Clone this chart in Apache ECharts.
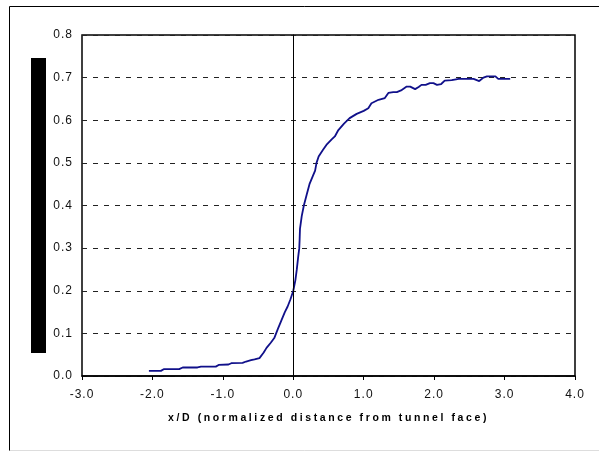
<!DOCTYPE html>
<html>
<head>
<meta charset="utf-8">
<script src="https://cdn.jsdelivr.net/npm/echarts@6/dist/echarts.min.js"></script>
<style>html,body{margin:0;padding:0;background:#fff}#c{width:599px;height:451px}</style>
</head>
<body>
<div id="c"></div>
<script>
var xValues = [-2.05,-1.88,-1.84,-1.62,-1.57,-1.36,-1.31,-1.10,-1.06,-0.92,-0.88,-0.72,-0.67,-0.60,-0.55,-0.48,-0.42,-0.38,-0.32,-0.27,-0.22,-0.17,-0.12,-0.08,-0.04,0.00,0.03,0.05,0.07,0.085,0.09,0.095,0.12,0.15,0.19,0.23,0.28,0.31,0.33,0.36,0.42,0.47,0.545,0.59,0.64,0.72,0.80,0.90,1.00,1.065,1.11,1.21,1.30,1.35,1.42,1.47,1.53,1.61,1.66,1.73,1.78,1.82,1.88,1.94,1.99,2.04,2.10,2.15,2.25,2.35,2.46,2.56,2.64,2.70,2.75,2.87,2.91,3.08];
var yValues = [0.012,0.012,0.016,0.016,0.020,0.020,0.022,0.022,0.026,0.027,0.030,0.031,0.034,0.037,0.039,0.042,0.055,0.066,0.078,0.089,0.110,0.130,0.150,0.163,0.180,0.200,0.225,0.250,0.280,0.300,0.320,0.345,0.375,0.400,0.425,0.450,0.470,0.482,0.500,0.515,0.530,0.542,0.555,0.562,0.577,0.592,0.605,0.615,0.622,0.628,0.640,0.648,0.652,0.664,0.666,0.666,0.670,0.679,0.679,0.673,0.678,0.683,0.683,0.687,0.687,0.683,0.685,0.693,0.694,0.697,0.697,0.697,0.692,0.700,0.703,0.703,0.697,0.697];
var xAxisTitle = 'x/D (normalized distance from tunnel face)';

// widen letter spacing of drawn text, as in the reference rendering
(function(){
  var P = window.CanvasRenderingContext2D && CanvasRenderingContext2D.prototype;
  if (!P) return;
  var origFill = P.fillText;
  P.fillText = function(){
    try { this.letterSpacing = /bold/.test(this.font) ? '2.6px' : '1px'; } catch(e) {}
    return origFill.apply(this, arguments);
  };
})();

var pts = xValues.map(function(x,i){return [x,yValues[i]];});
var chart = echarts.init(document.getElementById('c'), null, {renderer:'canvas'});
chart.setOption({
  animation:false,
  backgroundColor:'#fff',
  grid:{left:82,right:24,top:35,bottom:75,show:true,borderColor:'#000',borderWidth:1.5,backgroundColor:'transparent'},
  xAxis:{type:'value',min:-3,max:4,interval:1,
    name:xAxisTitle,nameLocation:'middle',nameGap:37,
    nameTextStyle:{fontFamily:'Liberation Sans',fontWeight:'bold',fontSize:10.5,color:'#000'},
    axisLine:{onZero:false,lineStyle:{color:'#000',width:1.5}},
    axisTick:{show:true,length:4,lineStyle:{color:'#000'}},
    axisLabel:{margin:13,fontFamily:'Liberation Sans',fontSize:12,color:'#111',formatter:function(v){return v.toFixed(1);}},
    splitLine:{show:false}},
  yAxis:{type:'value',min:0,max:0.8,interval:0.1,
    axisLine:{show:true,lineStyle:{color:'#000',width:1}},
    axisTick:{show:false},
    axisLabel:{margin:9,fontFamily:'Liberation Sans',fontSize:12,color:'#111',formatter:function(v){return v.toFixed(1);}},
    splitLine:{show:true,lineStyle:{color:'#222',type:[5,6],width:1}}},
  series:[{type:'line',data:pts,showSymbol:false,smooth:false,
    lineStyle:{color:'#10108a',width:1.8},
    markLine:{silent:true,symbol:'none',label:{show:false},lineStyle:{color:'#000',type:'solid',width:1},data:[{xAxis:0}]}}],
  graphic:[
    {type:'line',shape:{x1:9.5,y1:6.5,x2:599,y2:6.5},style:{stroke:'#000',lineWidth:1}},
    {type:'line',shape:{x1:9.5,y1:6.5,x2:9.5,y2:451},style:{stroke:'#000',lineWidth:1}},
    {type:'line',shape:{x1:9.5,y1:450.5,x2:599,y2:450.5},style:{stroke:'#ddd',lineWidth:1}},
    {type:'rect',shape:{x:31,y:58,width:15,height:295},style:{fill:'#000'}}
  ]
});
</script>
</body>
</html>
